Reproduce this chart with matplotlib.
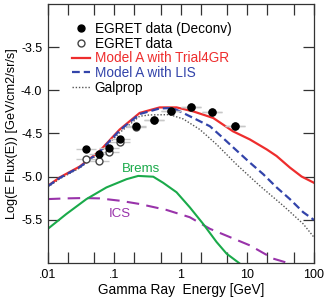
import matplotlib
matplotlib.use("Agg")
import matplotlib.pyplot as plt
import numpy as np
from matplotlib.ticker import FixedLocator, FixedFormatter, NullFormatter
from matplotlib.lines import Line2D

plt.rcParams['font.family'] = ['Liberation Sans', 'DejaVu Sans']
plt.rcParams['axes.unicode_minus'] = False

# Data points (EGRET)
data_E = [0.038, 0.059, 0.084, 0.121, 0.21, 0.39, 0.71, 1.44, 2.9, 6.5]
deconv_y = [-4.684, -4.741, -4.664, -4.569, -4.408, -4.339, -4.236, -4.19, -4.253, -4.414]
raw_y = [-4.799, -4.816, -4.718, -4.60, -4.423, -4.339, -4.236, -4.19, -4.253, -4.414]
yerr = [0.04, 0.04, 0.035, 0.035, 0.03, 0.03, 0.03, 0.035, 0.04, 0.05]

# Model A with Trial4GR
red_E = [0.01, 0.015, 0.03, 0.06, 0.12, 0.24, 0.48, 0.86, 1.53, 3.06, 6.05, 10.9, 19.5, 27.5, 43.5, 65.3, 100]
red_y = [-5.106, -5.009, -4.883, -4.703, -4.454, -4.262, -4.198, -4.198, -4.244, -4.32, -4.474, -4.569, -4.684, -4.761, -4.894, -4.998, -5.07]

# Model A with LIS
blue_E = [0.01, 0.015, 0.03, 0.06, 0.12, 0.24, 0.48, 0.75, 1.08, 1.72, 2.73, 4.0, 6.3, 10.9, 17.3, 27.5, 43.5, 69, 100]
blue_y = [-5.11, -5.015, -4.89, -4.71, -4.465, -4.275, -4.21, -4.205, -4.262, -4.339, -4.416, -4.53, -4.67, -4.837, -4.971, -5.124, -5.259, -5.411, -5.50]

# Galprop
gal_E = [0.01, 0.015, 0.03, 0.06, 0.12, 0.24, 0.34, 0.68, 1.08, 1.93, 3.44, 6.9, 15.4, 34.6, 69, 100]
gal_y = [-5.12, -5.025, -4.90, -4.725, -4.49, -4.30, -4.285, -4.282, -4.331, -4.454, -4.626, -4.86, -5.106, -5.336, -5.546, -5.70]

# Brems
brems_E = [0.01, 0.019, 0.038, 0.076, 0.152, 0.228, 0.384, 0.54, 0.86, 1.36, 2.16, 3.44, 4.87, 7.7]
brems_y = [-5.603, -5.431, -5.259, -5.124, -5.029, -4.991, -5.0, -5.07, -5.18, -5.354, -5.546, -5.756, -5.891, -6.006]

# ICS
ics_E = [0.01, 0.019, 0.034, 0.06, 0.121, 0.24, 0.61, 1.36, 2.73, 5.45, 10.9, 24.4, 38.8]
ics_y = [-5.259, -5.251, -5.247, -5.251, -5.278, -5.316, -5.385, -5.469, -5.603, -5.699, -5.795, -5.948, -5.994]

xticks = [0.01, 0.1, 1, 10, 100]
xticklabels = ['.01', '.1', '1', '10', '100']
yticks = [-5.5, -5.0, -4.5, -4.0, -3.5]
yticklabels = ['-5.5', '-5.0', '-4.5', '-4.0', '-3.5']
legend_labels = ['EGRET data (Deconv)', 'EGRET data', 'Model A with Trial4GR', 'Model A with LIS', 'Galprop']

fig = plt.figure(figsize=(3.28, 3.0), dpi=100)
ax = fig.add_axes([0.146, 0.123, 0.811, 0.864])

red = '#ee2d2d'
blue = '#3344aa'
green = '#1aaa4a'
purple = '#9933aa'
gray = '#555555'
dot_style = (0, (1, 1.3))

ax.plot(ics_E, ics_y, color=purple, lw=1.5, dashes=(6, 3.5))
ax.plot(brems_E, brems_y, color=green, lw=1.5)
ax.plot(gal_E, gal_y, color=gray, lw=1.0, linestyle=dot_style)
ax.plot(red_E, red_y, color=red, lw=1.6)
ax.plot(blue_E, blue_y, color=blue, lw=1.6, dashes=(3.5, 1.8))

E = np.array(data_E)
xerr = [E - E / 10**0.15, E * 10**0.15 - E]
ax.errorbar(data_E, raw_y, xerr=xerr, yerr=yerr, fmt='none', ecolor='#c8c8c8', elinewidth=1, zorder=3)
ax.errorbar(data_E, deconv_y, xerr=xerr, yerr=yerr, fmt='none', ecolor='#c8c8c8', elinewidth=1, zorder=3)
ax.plot(data_E, raw_y, 'o', mfc='white', mec='#444444', mew=1.0, ms=5, ls='none', zorder=4)
ax.plot(data_E, deconv_y, 'o', color='black', ms=5, ls='none', zorder=5)

ax.set_xscale('log')
ax.set_xlim(0.01, 100)
ax.set_ylim(-6.0, -3.0)

ax.xaxis.set_major_locator(FixedLocator(xticks))
ax.xaxis.set_major_formatter(FixedFormatter(xticklabels))
minor = [m * 10.0**d for d in range(-2, 2) for m in (2, 5)]
ax.xaxis.set_minor_locator(FixedLocator(minor))
ax.xaxis.set_minor_formatter(NullFormatter())
ax.yaxis.set_major_locator(FixedLocator(yticks))
ax.yaxis.set_major_formatter(FixedFormatter(yticklabels))
ax.yaxis.set_minor_locator(FixedLocator([]))

ax.tick_params(which='both', direction='in', length=8, width=0.9, color='#333333',
               top=True, right=True, labelsize=9, pad=4)
for s in ax.spines.values():
    s.set_linewidth(0.9)
    s.set_color('#333333')

ax.set_xlabel('Gamma Ray  Energy [GeV]', fontsize=9.8, labelpad=2)
ax.set_ylabel('Log(E Flux(E)) [GeV/cm2/sr/s]', fontsize=9.2, labelpad=2)

ax.text(0.25, -4.915, 'Brems', color=green, fontsize=9.5, ha='center', va='center')
ax.text(0.12, -5.43, 'ICS', color=purple, fontsize=9.5, ha='center', va='center')

handles = [
    Line2D([], [], marker='o', color='black', ls='none', ms=5),
    Line2D([], [], marker='o', mfc='white', mec='#444444', ls='none', ms=5),
    Line2D([], [], color=red, lw=1.6),
    Line2D([], [], color=blue, lw=1.6, dashes=(3.5, 1.8)),
    Line2D([], [], color=gray, lw=1.0, linestyle=dot_style),
]
leg = ax.legend(handles, legend_labels, loc='upper left', bbox_to_anchor=(0.09, 0.93), frameon=False,
                fontsize=9.8, handlelength=1.3, handletextpad=0.38, labelspacing=0.05,
                labelcolor=['black', 'black', red, blue, 'black'], borderaxespad=0, borderpad=0)

fig.savefig('out.png', dpi=100)
